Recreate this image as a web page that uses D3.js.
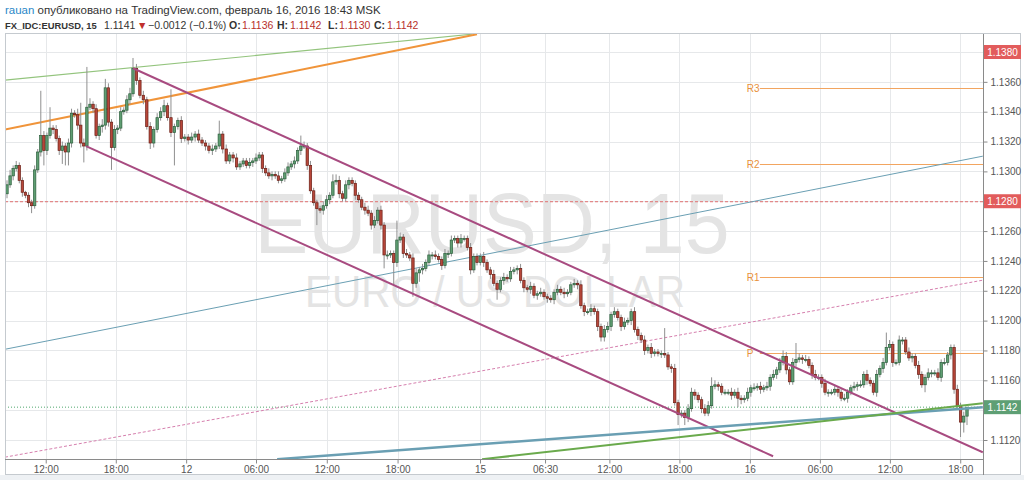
<!DOCTYPE html>
<html>
<head>
<meta charset="utf-8">
<script src="https://cdn.jsdelivr.net/npm/d3@7"></script>
<style>
  body { margin: 0; background: #fff; }
  svg { display: block; font-family: "Liberation Sans", Arial, sans-serif; }
</style>
</head>
<body>
<div id="chart"></div>
<script>
// EURUSD 15 min closes (each candle opens at the previous close)
const closes = [
  1.1291,1.1297,1.1302,1.1304,1.1294,1.1286,1.1284,1.1279,1.1277,1.1301,
  1.1313,1.1324,1.1314,1.1324,1.1329,1.1328,1.1322,1.1314,1.1317,1.1313,
  1.1319,1.1339,1.1338,1.1331,1.1319,1.1317,1.1343,1.1345,1.1342,1.1324,
  1.1330,1.1331,1.1356,1.1333,1.1316,1.1328,1.1329,1.1340,1.1341,1.1348,
  1.1352,1.1369,1.1361,1.1351,1.1348,1.1330,1.1319,1.1328,1.1336,1.1340,
  1.1344,1.1336,1.1326,1.1330,1.1334,1.1322,1.1323,1.1321,1.1323,1.1325,
  1.1321,1.1319,1.1317,1.1314,1.1315,1.1317,1.1325,1.1315,1.1307,1.1311,
  1.1309,1.1303,1.1305,
  1.1307,1.1304,1.1306,1.1307,1.1309,1.1311,1.1302,1.1299,1.1297,1.1298,
  1.1297,1.1294,1.1295,1.1299,1.1303,1.1305,1.1307,1.1314,1.1317,1.1317,
  1.1304,1.1287,1.1279,1.1275,1.1274,1.1277,1.1281,1.1284,1.1293,1.1294,
  1.1285,1.1282,1.1291,1.1294,1.1292,1.1284,1.1281,1.1276,1.1274,1.1272,
  1.1264,1.1267,1.1274,1.1264,1.1244,1.1244,1.1245,1.1239,1.1254,1.1256,
  1.1245,1.1244,1.1242,1.1225,1.1232,1.1234,1.1235,1.1239,1.1244,1.1244,
  1.1243,1.1241,1.1237,1.1245,1.1245,1.1254,1.1255,1.1252,1.1255,1.1255,
  1.1249,1.1234,1.1243,1.1239,
  1.1243,1.1239,1.1234,1.1231,1.1225,1.1221,1.1227,1.1229,1.1228,1.1233,
  1.1234,1.1235,1.1227,1.1222,1.1221,1.1223,1.1217,1.1218,1.1219,1.1216,
  1.1215,1.1214,1.1219,1.1221,1.1219,1.1218,1.1219,1.1224,1.1225,1.1224,
  1.1210,1.1206,1.1206,1.1208,1.1206,1.1196,1.1189,1.1194,1.1196,1.1204,
  1.1206,1.1202,1.1196,1.1199,1.1200,1.1206,1.1194,1.1190,1.1187,1.1180,
  1.1182,1.1178,1.1179,1.1178,1.1178,1.1177,1.1169,1.1168,1.1145,1.1137,
  1.1138,1.1135,1.1141,1.1152,1.1150,1.1147,1.1141,1.1138,1.1143,1.1156,
  1.1157,1.1156,1.1152,1.1152,
  1.1152,1.1150,1.1152,1.1148,1.1147,1.1148,1.1152,1.1155,1.1155,1.1156,
  1.1154,1.1155,1.1156,1.1162,1.1164,1.1167,1.1172,1.1176,1.1167,1.1159,
  1.1172,1.1174,1.1175,1.1174,1.1174,1.1170,1.1164,1.1162,1.1162,1.1158,
  1.1152,1.1152,1.1152,1.1154,1.1152,1.1148,1.1148,1.1152,1.1155,1.1156,
  1.1157,1.1157,1.1164,1.1160,1.1158,1.1152,1.1164,1.1168,1.1172,1.1182,
  1.1184,1.1172,1.1172,1.1187,1.1187,1.1179,1.1175,1.1176,1.1170,1.1164,
  1.1157,1.1162,1.1165,1.1165,1.1165,1.1162,1.1172,1.1172,1.1177,1.1182,
  1.1154,1.1143,1.1132,1.1136,1.1142
];
const firstOpen = 1.1285;

// wick lengths above / below the body, in pips
const upWick = [
  3,4,2,3,2,2,1,2,2,3, 2,30,3,2,14,2,3,2,3,2, 3,3,2,4,15,3,27,4,2,3,
  2,4,6,3,2,3,2,3,2,3, 4,7,3,2,3,2,3,2,3,3, 4,2,19,2,2,3,2,2,3,2,
  3,2,2,2,3,2,9,2,3,2, 2,3,2,
  2,2,3,2,3,2,2,2,3,2, 2,3,2,3,3,2,3,2,7,3, 2,3,2,2,2,3,3,2,5,4,
  3,2,3,2,2,2,2,2,3,3, 2,3,2,3,2,3,2,2,13,3, 2,3,2,3,3,2,3,2,3,2,
  3,2,2,3,2,3,2,2,3,2, 2,3,2,2,
  2,3,2,2,3,2,2,3,2,3, 2,2,3,2,2,3,2,2,3,2, 2,2,2,3,2,3,2,2,3,2,
  3,2,2,3,2,2,2,3,3,2, 3,2,2,3,2,2,3,2,2,3, 2,3,2,2,2,17,2,2,3,2,
  2,2,3,3,2,2,2,3,3,6, 3,2,2,2,
  2,3,2,3,2,2,3,2,3,2, 3,2,3,2,3,2,3,4,3,2, 3,11,3,2,3,2,2,3,2,2,
  3,2,2,3,2,2,3,2,2,3, 2,3,2,3,2,2,3,2,3,10, 3,2,2,3,2,2,3,2,2,3,
  2,2,3,2,2,3,2,3,2,2, 2,3,2,3,0
];
const downWick = [
  3,2,3,2,2,3,2,3,5,2, 2,3,10,3,2,3,2,3,9,9, 9,3,2,3,3,11,3,2,3,2,
  3,4,3,3,15,2,3,2,2,2, 3,2,3,2,3,2,4,3,2,2, 3,2,3,22,2,3,2,3,2,3,
  2,2,3,2,3,2,2,3,2,2, 3,2,2,
  2,2,2,3,2,2,3,2,2,3, 2,2,2,2,2,2,3,2,3,2, 3,2,2,11,2,3,2,3,2,2,
  3,2,2,3,2,3,2,2,3,2, 3,2,2,3,9,3,2,15,3,2, 3,2,2,9,3,6,3,2,2,3,
  2,2,3,2,3,2,2,3,3,2, 2,3,2,2,
  2,3,2,3,2,7,2,3,2,2, 2,3,2,3,2,3,2,3,2,2, 3,2,3,2,2,3,2,2,2,3,
  2,3,2,3,2,3,3,3,2,3, 2,2,3,2,2,3,2,3,2,3, 2,3,2,2,3,2,2,3,2,7,
  2,5,3,2,3,2,3,2,2,2, 2,3,2,2,
  2,3,2,6,3,2,2,3,2,2, 3,2,2,3,2,3,2,2,3,2, 2,3,2,3,2,2,3,2,2,3,
  2,3,2,2,3,2,2,3,2,2, 3,2,2,3,2,2,3,2,3,2, 2,3,2,2,3,2,2,3,2,3,
  2,5,2,3,2,2,3,2,2,3, 3,2,10,7,6
];

// time axis: bar index of each session break, and its label
const timeTicks = [12.6,35.4,56.4,77.0,99.1,121.2,146.9,166.3,185.5,206.4,227.7,249.4,271.1,292.9];
const timeLabels = ['12:00','18:00','12','06:00','12:00','18:00','15','06:30','12:00','18:00','16','06:00','12:00','18:00'];
const priceTicks = [1.112,1.114,1.116,1.118,1.12,1.122,1.124,1.126,1.128,1.13,1.132,1.134,1.136,1.138];

// pivot levels
const pivotNames = ['R3','R2','R1','P'];
const pivotValues = [1.13556,1.13047,1.12292,1.11783];
const pivotStart = 230.8;

// drawn lines: [bar index, price] end points
const lineGreenTop = [[-0.65,1.13611],[144.4,1.13919]];
const lineOrange = [[-0.65,1.13280],[146.0,1.13919]];
const lineChannelTop = [[41,1.13691],[299.9,1.11118]];
const lineChannelLow = [[25.7,1.13169],[234.9,1.11091]];
const lineTeal = [[-0.65,1.11808],[299.9,1.13102]];
const linePinkDash = [[-0.65,1.11085],[299.9,1.12271]];
const lineTealThick = [[83.6,1.11071],[299.9,1.11420]];
const lineGreenThick = [[147.5,1.11071],[299.9,1.11446]];

// marked prices on the scale
const markValues = [1.138,1.128,1.1142];
const markColors = ['#e25c5c','#e25c5c','#5e9f74'];

const W = 1024, H = 480;
const plot = { left: 5, top: 34, right: 983, bottom: 459 };

const svg = d3.select('#chart').append('svg').attr('width', W).attr('height', H);

// bar index -> x; sessions are not equally filled, so the scale is piecewise
const x = d3.scaleLinear().domain([0, 41, 72, 146, 220, 295]).range([7, 133, 240, 477, 725, 967]);
const y = d3.scaleLinear().domain([1.112, 1.138]).range([440, 52]);

// background strip under the frame
svg.append('rect').attr('x', 0).attr('y', 475).attr('width', W).attr('height', 5).attr('fill', '#eef1f4');

// header
const head = svg.append('text').attr('x', 5).attr('y', 14).attr('font-size', 11.5).attr('fill', '#333');
head.append('tspan').attr('fill', '#2a87c8').text('rauan');
head.append('tspan').text(' опубликовано на TradingView.com, февраль 16, 2016 18:43 MSK');

const headParts = [
  { x: 5, t: 'FX_IDC:EURUSD, 15', bold: true, size: 9.4 },
  { x: 104, t: '1.1141' },
  { x: 137, t: '▼', c: '#c0312d' },
  { x: 148, t: '−0.0012 (−0.1%)' },
  { x: 229, t: 'O:', bold: true }, { x: 242, t: '1.1136', c: '#b8302c' },
  { x: 277, t: 'H:', bold: true }, { x: 290, t: '1.1142', c: '#b8302c' },
  { x: 328, t: 'L:', bold: true }, { x: 339, t: '1.1130', c: '#b8302c' },
  { x: 374, t: 'C:', bold: true }, { x: 387, t: '1.1142', c: '#b8302c' }
];
headParts.forEach((p) => {
  svg.append('text').attr('x', p.x).attr('y', 29).attr('font-size', p.size || 10.5)
    .attr('fill', p.c || '#333').attr('font-weight', p.bold ? 'bold' : 'normal').text(p.t);
});

// clip for plot
svg.append('clipPath').attr('id', 'clip').append('rect')
  .attr('x', plot.left).attr('y', plot.top)
  .attr('width', plot.right - plot.left).attr('height', plot.bottom - plot.top);

const g = svg.append('g').attr('clip-path', 'url(#clip)');

// grid
g.selectAll('.hgrid').data(priceTicks).enter().append('line')
  .attr('x1', plot.left).attr('x2', plot.right)
  .attr('y1', (d) => Math.round(y(d)) + 0.5).attr('y2', (d) => Math.round(y(d)) + 0.5)
  .attr('stroke', '#e6e8ea');
g.selectAll('.vgrid').data(timeTicks).enter().append('line')
  .attr('y1', plot.top).attr('y2', plot.bottom)
  .attr('x1', (d) => Math.round(x(d)) + 0.5).attr('x2', (d) => Math.round(x(d)) + 0.5)
  .attr('stroke', '#e6e8ea');

// watermark
g.append('text').attr('x', 492).attr('y', 253).attr('text-anchor', 'middle')
  .attr('font-size', 86).attr('fill', '#e4e4e4')
  .attr('textLength', 475).attr('lengthAdjust', 'spacingAndGlyphs')
  .text('EURUSD, 15');
g.append('text').attr('x', 495).attr('y', 307).attr('text-anchor', 'middle')
  .attr('font-size', 45).attr('fill', '#e4e4e4')
  .attr('textLength', 380).attr('lengthAdjust', 'spacingAndGlyphs')
  .text('EURO / US DOLLAR');

// horizontal marks
g.append('line').attr('x1', plot.left).attr('x2', plot.right)
  .attr('y1', y(1.128) + 0.5).attr('y2', y(1.128) + 0.5)
  .attr('stroke', '#e07070').attr('stroke-dasharray', '3,2');
g.append('line').attr('x1', plot.left).attr('x2', plot.right)
  .attr('y1', y(1.1142)).attr('y2', y(1.1142))
  .attr('stroke', '#4fa86e').attr('stroke-dasharray', '1,2');

// pivots
pivotValues.forEach((v, i) => {
  g.append('line').attr('x1', x(pivotStart)).attr('x2', plot.right)
    .attr('y1', Math.round(y(v)) + 0.5).attr('y2', Math.round(y(v)) + 0.5)
    .attr('stroke', '#f2a560').attr('stroke-width', 1);
  g.append('text').attr('x', x(pivotStart) - 13).attr('y', y(v) + 4)
    .attr('font-size', 10).attr('fill', '#e8913a').text(pivotNames[i]);
});

// drawn lines
const lineGen = d3.line().x((d) => x(d[0])).y((d) => y(d[1]));
const drawLine = (pts, color, width, dash) => {
  const p = g.append('path').attr('d', lineGen(pts)).attr('fill', 'none')
    .attr('stroke', color).attr('stroke-width', width);
  if (dash) p.attr('stroke-dasharray', dash);
};
drawLine(linePinkDash, '#d67fae', 1, '3,2');
drawLine(lineTeal, '#6a9fb3', 1);
drawLine(lineGreenTop, '#93c47d', 1.2);
drawLine(lineOrange, '#f0943a', 2);

// candles
const candles = closes.map((c, i) => {
  const o = i === 0 ? firstOpen : closes[i - 1];
  return {
    i, o, c,
    h: Math.max(o, c) + upWick[i] / 10000,
    l: Math.min(o, c) - downWick[i] / 10000
  };
});

g.selectAll('.wick').data(candles).enter().append('line')
  .attr('x1', (d) => x(d.i)).attr('x2', (d) => x(d.i))
  .attr('y1', (d) => y(d.h)).attr('y2', (d) => y(d.l))
  .attr('stroke', '#8f8f8f').attr('stroke-width', 1);

g.selectAll('.body').data(candles).enter().append('rect')
  .attr('x', (d) => x(d.i) - 1.2).attr('width', 2.4)
  .attr('y', (d) => y(Math.max(d.o, d.c)))
  .attr('height', (d) => Math.max(1, Math.abs(y(d.o) - y(d.c))))
  .attr('fill', (d) => (d.c >= d.o ? '#5f9e72' : '#b8473a'))
  .attr('stroke', (d) => (d.c >= d.o ? '#2c5e3c' : '#6a1f16'))
  .attr('stroke-width', 0.7);

drawLine(lineChannelTop, '#a84b80', 2);
drawLine(lineChannelLow, '#a84b80', 2);
drawLine(lineTealThick, '#6a9fb3', 2.5);
drawLine(lineGreenThick, '#6aaa4c', 2);

// frame
svg.append('rect').attr('x', 5.5).attr('y', 33.5).attr('width', 1015).attr('height', 441)
  .attr('fill', 'none').attr('stroke', '#c5cacf');
svg.append('line').attr('x1', plot.right + 0.5).attr('x2', plot.right + 0.5)
  .attr('y1', plot.top).attr('y2', 475).attr('stroke', '#8a8a8a');
svg.append('line').attr('x1', plot.left).attr('x2', plot.right)
  .attr('y1', plot.bottom + 0.5).attr('y2', plot.bottom + 0.5).attr('stroke', '#8a8a8a');

// right axis
const yAxis = d3.axisRight(y).tickValues(priceTicks).tickSize(4).tickPadding(3)
  .tickFormat(d3.format('.4f'));
const ya = svg.append('g').attr('transform', `translate(${plot.right + 0.5},0)`).call(yAxis);
ya.select('.domain').remove();
ya.selectAll('line').attr('stroke', '#8a8a8a');
ya.selectAll('text').attr('font-size', 10).attr('fill', '#555')
  .attr('font-family', '"Liberation Sans", Arial, sans-serif');
// labels hidden under the marked prices
ya.selectAll('.tick')
  .filter((d) => markValues.some((m) => Math.abs(y(m) - y(d)) < 10))
  .select('text').remove();

// bottom axis
const xAxis = d3.axisBottom(x).tickValues(timeTicks).tickSize(4).tickPadding(2)
  .tickFormat((d, i) => timeLabels[i]);
const xa = svg.append('g').attr('transform', `translate(0,${plot.bottom + 0.5})`).call(xAxis);
xa.select('.domain').remove();
xa.selectAll('line').attr('stroke', '#8a8a8a');
xa.selectAll('text').attr('font-size', 10).attr('fill', '#555')
  .attr('font-family', '"Liberation Sans", Arial, sans-serif');

// marked price labels
markValues.forEach((v, i) => {
  svg.append('rect').attr('x', plot.right + 1).attr('y', y(v) - 7)
    .attr('width', 37).attr('height', 14).attr('fill', markColors[i]);
  svg.append('text').attr('x', plot.right + 19.5).attr('y', y(v) + 3.5)
    .attr('text-anchor', 'middle').attr('font-size', 10).attr('fill', '#fff')
    .text(d3.format('.4f')(v));
});
</script>
</body>
</html>
